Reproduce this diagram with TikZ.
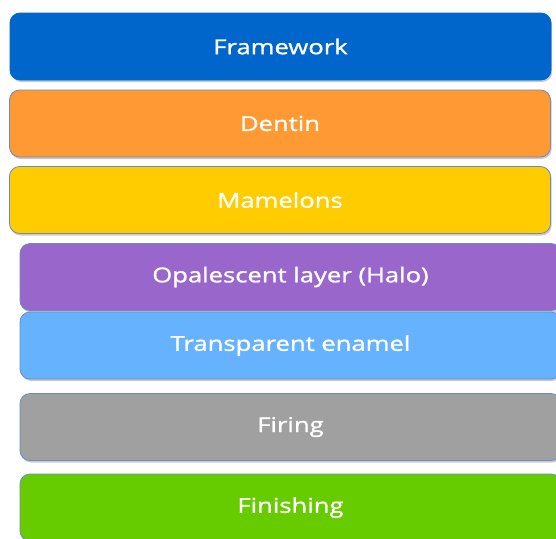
\documentclass[tikz,border=0pt]{standalone}
\usepackage{fontspec}
\setmainfont{Open Sans}
\newfontfamily\boxfont{Open Sans}[FakeStretch=1.25, FakeBold=1.3]
\usetikzlibrary{shadows}
\definecolor{cblue}{HTML}{0066CC}
\definecolor{corange}{HTML}{FF9933}
\definecolor{cyellow}{HTML}{FFCC00}
\definecolor{cpurple}{HTML}{9966CC}
\definecolor{clight}{HTML}{66B2FF}
\definecolor{cgray}{HTML}{A0A0A0}
\definecolor{cgreen}{HTML}{66CC00}
\definecolor{cborder}{HTML}{6A8CC4}
\begin{document}
\begin{tikzpicture}[x=1pt,y=-1pt,
  layerbox/.style={draw=cborder, line width=0.8pt, rounded corners=10pt,
    minimum width=541pt, minimum height=67pt, inner sep=0pt,
    text=white, font=\boxfont\fontsize{20.5}{24}\selectfont,
    drop shadow={shadow xshift=1.2pt, shadow yshift=-2pt, opacity=0.35, fill=black!60}}]
\path[use as bounding box] (0,0) rectangle (556,538);
\begin{scope}
\clip (0,0) rectangle (556,538);
\node[layerbox, fill=cblue, draw=cblue] (framework) at (280.5,46.5) {\raisebox{-1pt}{Framework}};
\node[layerbox, fill=corange] (dentin) at (280,123.5) {\raisebox{-1pt}{Dentin}};
\node[layerbox, fill=cyellow] (mamelons) at (280,200) {\raisebox{-1pt}{Mamelons}};
\node[layerbox, fill=cpurple] (opal) at (290.5,277) {\raisebox{-1pt}{Opalescent layer (Halo)}};
\node[layerbox, fill=clight] (enamel) at (290.5,345.5) {\raisebox{-1pt}{Transparent enamel}};
\node[layerbox, fill=cgray] (firing) at (290.5,427) {\raisebox{-1pt}{Firing}};
\node[layerbox, fill=cgreen] (finishing) at (290.5,507.5) {\raisebox{-1pt}{Finishing}};
\end{scope}
\end{tikzpicture}
\end{document}
